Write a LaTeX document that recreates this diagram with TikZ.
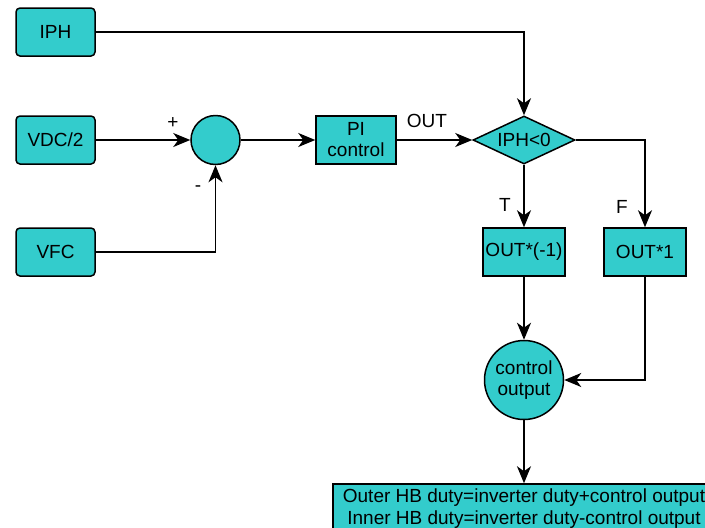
\documentclass[tikz,border=0pt]{standalone}
\usepackage{fontspec}
\setmainfont{Liberation Sans}
\usetikzlibrary{arrows.meta,shapes.geometric}
\definecolor{turq}{RGB}{51,204,204}

\begin{document}
\begin{tikzpicture}[x=1pt, y=-1pt,
	font=\fontsize{19}{23}\selectfont,
	blk/.style={draw=black, fill=turq, line width=1.5pt, inner sep=1pt, align=center},
	inbox/.style={blk, rounded corners=4pt, minimum width=79pt, minimum height=48pt},
	opbox/.style={blk, minimum width=81pt, minimum height=48pt},
	rnd/.style={blk, circle},
	arr/.style={line width=1.5pt, -{Stealth[length=17pt, width=14pt, inset=5pt]}},
	ln/.style={line width=1.5pt}]
			%%%%% START %%%%%
			
			\clip (0, 0) rectangle (705, 528);
			\fill[white] (0, 0) rectangle (705, 528);
			
			\node[inbox] (iph) at (55.5, 32) {IPH};
			\node[inbox] (vdc) at (55.5, 140) {VDC/2};
			\node[inbox] (vfc) at (55.5, 252) {VFC};
			
			\node[rnd, minimum size=49pt] (sum) at (215.5, 140) {};
			\node[opbox, minimum width=80pt] (pi) at (356, 140) {PI\\[-2pt]control};
			\node[blk, diamond, aspect=2, inner sep=0pt, minimum width=102pt, minimum height=48pt] (cmp) at (524, 140) {IPH<0};
			
			\node[opbox, minimum width=82pt] (neg) at (524, 252) {OUT*(-1)};
			\node[opbox, minimum width=82pt] (pos) at (645, 252) {OUT*1};
			
			\node[rnd, minimum size=79pt] (outc) at (524, 380) {control\\[-2pt]output};
			\node[blk, minimum width=382pt, minimum height=50pt, inner sep=0pt] (duty) at (524, 509) {Outer HB duty=inverter duty+control output\\[-1pt]Inner HB duty=inverter duty-control output};
			
			\node (lplus) at (173, 123) {+};
			\node (lminus) at (198, 189) {-};
			\node (lout) at (427, 121) {OUT};
			\node (ltrue) at (505, 205) {T};
			\node (lfalse) at (622, 207) {F};
			
			\draw[arr] (iph) -| (cmp);
			\draw[arr] (vdc) -- (sum);
			\draw[arr] (vfc) -| (sum);
			\draw[arr] (sum) -- (pi);
			\draw[arr] (pi) -- (cmp);
			\draw[arr] (cmp) -- (neg);
			\draw[arr] (cmp) -| (pos);
			\draw[arr] (neg) -- (outc);
			\draw[arr] (pos) |- (outc);
			\draw[arr] (outc) -- (duty);
			
			%%%%% END %%%%%
\end{tikzpicture}
\end{document}
